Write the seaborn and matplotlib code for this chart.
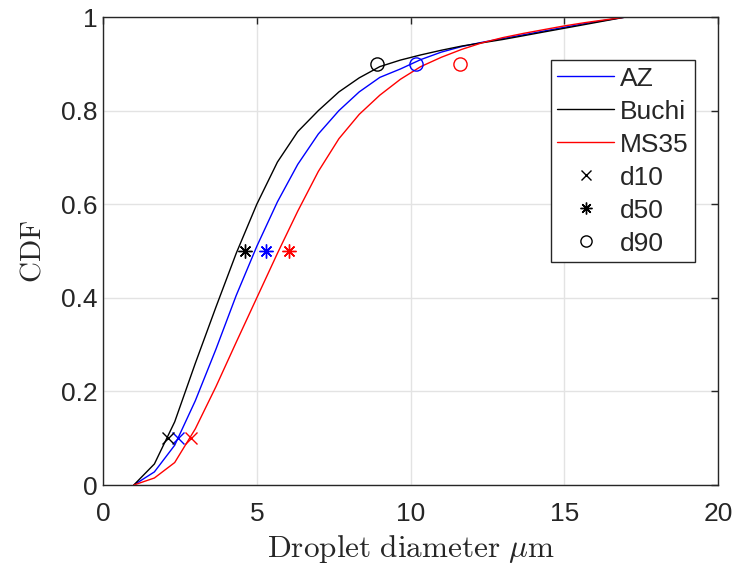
import numpy as np
import pandas as pd
import seaborn as sns
import matplotlib
matplotlib.use("Agg")
import matplotlib.pyplot as plt
from matplotlib.lines import Line2D

# Droplet diameter grid (um) and cumulative distributions per nozzle
diameter_um = [1.00, 1.67, 2.33, 3.00, 3.67, 4.33, 5.00, 5.67, 6.33, 7.00,
               7.67, 8.33, 9.00, 9.67, 10.33, 11.00, 11.67, 12.33, 13.00,
               13.67, 14.33, 15.00, 15.67, 16.33, 17.00]
cdf_az = [0.0, 0.028, 0.085, 0.18, 0.29, 0.405, 0.51, 0.605, 0.685, 0.75,
          0.80, 0.84, 0.871, 0.889, 0.909, 0.925, 0.937, 0.946, 0.954,
          0.962, 0.970, 0.978, 0.986, 0.993, 1.0]
cdf_buchi = [0.0, 0.045, 0.135, 0.26, 0.38, 0.495, 0.60, 0.69, 0.755, 0.80,
             0.84, 0.87, 0.894, 0.908, 0.919, 0.929, 0.938, 0.945, 0.952,
             0.960, 0.968, 0.976, 0.984, 0.992, 1.0]
cdf_ms35 = [0.0, 0.015, 0.048, 0.12, 0.21, 0.305, 0.40, 0.495, 0.585, 0.67,
            0.74, 0.792, 0.833, 0.867, 0.894, 0.914, 0.931, 0.945, 0.956,
            0.965, 0.973, 0.981, 0.988, 0.994, 1.0]

series_names = ["AZ", "Buchi", "MS35"]
series_colors = ["#0000ff", "#000000", "#ff0000"]

# Characteristic diameters d10, d50, d90 for each nozzle
d10 = [2.45, 2.12, 2.85]
d50 = [5.30, 4.62, 6.06]
d90 = [10.18, 8.92, 11.61]
quantile_levels = [0.1, 0.5, 0.9]
quantile_names = ["d10", "d50", "d90"]

# 'x' cross, 8-armed asterisk, open circle
ASTERISK = (8, 2, 0)
quantile_markers = ["x", ASTERISK, "o"]

curves = pd.DataFrame({
    "diameter": diameter_um * 3,
    "cdf": cdf_az + cdf_buchi + cdf_ms35,
    "nozzle": [n for n in series_names for _ in diameter_um],
})

sns.set_style("white")
plt.rcParams["font.family"] = ["Liberation Sans", "DejaVu Sans"]
plt.rcParams["mathtext.fontset"] = "cm"

fig = plt.figure(figsize=(7.37, 5.69), dpi=100)
ax = fig.add_axes([0.1398, 0.1476, 0.8346, 0.8225])

sns.lineplot(data=curves, x="diameter", y="cdf", hue="nozzle",
             hue_order=series_names, palette=series_colors,
             linewidth=1.0, legend=False, ax=ax, sort=False)


def marker_style(mk, color, size_scale=1.0):
    if mk == "o":
        return dict(marker="o", markersize=9.5 * size_scale,
                    markerfacecolor="none", markeredgecolor=color,
                    markeredgewidth=1.0)
    if mk == "x":
        return dict(marker="x", markersize=8 * size_scale,
                    markeredgecolor=color, markeredgewidth=1.0)
    return dict(marker=mk, markersize=10 * size_scale,
                markeredgecolor=color, markeredgewidth=1.0)


for i, color in enumerate(series_colors):
    qvals = [d10[i], d50[i], d90[i]]
    for q, lvl, mk in zip(qvals, quantile_levels, quantile_markers):
        ax.plot([q], [lvl], linestyle="none", color=color,
                **marker_style(mk, color))

ax.set_xlim(0, 20)
ax.set_ylim(0, 1)
ax.set_xticks([0, 5, 10, 15, 20])
ax.set_yticks([0, 0.2, 0.4, 0.6, 0.8, 1.0])
ax.set_xticklabels(["0", "5", "10", "15", "20"])
ax.set_yticklabels(["0", "0.2", "0.4", "0.6", "0.8", "1"])

ax.grid(True, color="#e3e3e3", linewidth=1.0)
ax.set_axisbelow(True)
for sp in ax.spines.values():
    sp.set_visible(True)
    sp.set_color("#262626")
    sp.set_linewidth(1.0)
ax.tick_params(direction="in", length=5, width=1.0, top=True, right=True,
               labelsize=19, colors="#262626")
ax.tick_params(axis="y", pad=4)
ax.tick_params(axis="x", pad=12)

ax.set_xlabel(r"$\mathrm{Droplet\ diameter}\ \mu\mathrm{m}$", fontsize=22.5,
              color="#262626", labelpad=5)
ax.set_ylabel(r"$\mathrm{CDF}$", fontsize=21, color="#262626", labelpad=10)

handles = [Line2D([], [], color=c, linewidth=1.0) for c in series_colors]
handles += [Line2D([], [], linestyle="none", color="black",
                   **marker_style(m, "black", 0.85))
            for m in quantile_markers]
leg = ax.legend(handles, series_names + quantile_names, loc="upper right",
                bbox_to_anchor=(0.9626, 0.908), borderaxespad=0,
                fontsize=19, frameon=True, fancybox=False, framealpha=1,
                edgecolor="#262626", handlelength=2.15, handletextpad=0.22,
                labelspacing=0.34, borderpad=0.25)
leg.get_frame().set_linewidth(1.0)

fig.savefig("out.png", dpi=100)
